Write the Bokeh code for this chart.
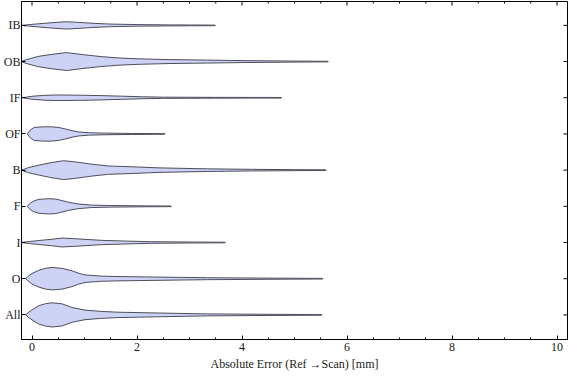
import math
from bokeh.plotting import figure
from bokeh.models import FixedTicker, SingleIntervalTicker, ColumnDataSource
from bokeh.embed import file_html
from bokeh.resources import INLINE

# categories bottom -> top
categories = ["All", "O", "I", "F", "B", "OF", "IF", "OB", "IB"]

# violin profiles: x positions [mm] and half-widths (category units)
all_x = [-0.12, -0.06, 0.0, 0.13, 0.26, 0.38, 0.57, 0.76, 1.01, 1.32, 1.64, 2.59, 3.34, 4.5, 5.52]
all_w = [0, .077, .137, .255, .31, .334, .307, .205, .132, .096, .074, .047, .027, .016, .008]

o_x = [-0.12, -0.06, 0.0, 0.13, 0.26, 0.38, 0.57, 0.76, 0.89, 1.01, 1.32, 1.64, 2.59, 3.34, 4.5, 5.54]
o_w = [0, .082, .145, .233, .288, .31, .288, .219, .151, .104, .071, .06, .041, .027, .016, .008]

i_x = [-0.2, -0.05, 0.13, 0.38, 0.57, 0.83, 1.32, 1.83, 2.27, 3.0, 3.68]
i_w = [0, .027, .055, .09, .123, .104, .06, .038, .022, .014, .008]

f_x = [-0.09, -0.03, 0.04, 0.13, 0.32, 0.45, 0.57, 0.7, 0.89, 1.14, 1.5, 2.0, 2.65]
f_w = [0, .096, .151, .192, .211, .2, .159, .11, .063, .033, .022, .014, .008]

b_x = [-0.2, -0.06, 0.13, 0.38, 0.6, 0.83, 1.14, 1.46, 1.96, 2.4, 3.34, 4.2, 5.0, 5.6]
b_w = [0, .074, .137, .211, .26, .227, .164, .115, .09, .063, .036, .022, .014, .008]

of_x = [-0.09, -0.03, 0.04, 0.2, 0.38, 0.51, 0.64, 0.76, 0.89, 1.08, 1.4, 1.9, 2.53]
of_w = [0, .11, .178, .197, .197, .178, .137, .09, .055, .033, .022, .014, .008]

if_x = [-0.18, 0.0, 0.25, 0.5, 0.9, 1.3, 1.7, 2.1, 2.5, 3.5, 4.75]
if_w = [0, .041, .068, .077, .071, .06, .044, .027, .016, .011, .008]

ob_x = [-0.21, -0.12, 0.0, 0.13, 0.38, 0.66, 1.01, 1.32, 1.64, 2.0, 2.59, 3.34, 4.0, 4.8, 5.64]
ob_w = [0, .047, .096, .145, .2, .247, .184, .137, .101, .077, .055, .041, .027, .016, .008]

ib_x = [-0.2, -0.05, 0.15, 0.4, 0.66, 0.9, 1.2, 1.5, 2.0, 2.6, 3.0, 3.49]
ib_w = [0, .022, .047, .077, .101, .082, .055, .036, .022, .014, .011, .008]

profiles = [(all_x, all_w), (o_x, o_w), (i_x, i_w), (f_x, f_w), (b_x, b_w),
            (of_x, of_w), (if_x, if_w), (ob_x, ob_w), (ib_x, ib_w)]

x_ticks = [0, 2, 4, 6, 8, 10]
x_minor = [t + d for t in x_ticks[:-1] for d in (0.5, 1.0, 1.5)]
x_label = "Absolute Error (Ref \u2192Scan) [mm]"

X0, X1 = -0.2, 10.2
Y0, Y1 = 0.32, 9.66
FONT = "Liberation Serif"

p = figure(width=568, height=373, x_range=(X0, X1), y_range=(Y0, Y1),
           output_backend="svg", toolbar_location=None,
           min_border_left=0, min_border_right=1, min_border_top=1, min_border_bottom=0)

xs, ys = [], []
for k, (px, pw) in enumerate(profiles):
    c = k + 1
    xs.append(list(px) + list(px)[::-1])
    ys.append([c + w for w in pw] + [c - w for w in pw][::-1])

p.patches(xs="xs", ys="ys", source=ColumnDataSource(dict(xs=xs, ys=ys)),
          fill_color="#ccd3f5", fill_alpha=1.0, line_color="#4e4e5a", line_width=1,
          line_join="round")

p.xgrid.visible = False
p.ygrid.visible = False
p.outline_line_color = "black"
p.outline_line_width = 1
p.background_fill_color = "white"
p.border_fill_color = "white"

xt = SingleIntervalTicker(interval=2, num_minor_ticks=4)
yt = FixedTicker(ticks=list(range(1, len(categories) + 1)), minor_ticks=[])

def style_axis(ax):
    ax.axis_line_color = "black"
    ax.axis_line_width = 1
    ax.major_tick_in = 4
    ax.major_tick_out = 0
    ax.minor_tick_in = 2
    ax.minor_tick_out = 0
    ax.major_tick_line_color = "black"
    ax.minor_tick_line_color = "black"
    ax.major_label_text_font = FONT
    ax.major_label_text_font_size = "12px"
    ax.major_label_text_color = "#1a1a1a"

xa = p.xaxis[0]
xa.ticker = xt
style_axis(xa)
xa.major_label_standoff = 3
xa.axis_label = x_label
xa.axis_label_text_font = FONT
xa.axis_label_text_font_size = "12px"
xa.axis_label_text_font_style = "normal"
xa.axis_label_text_color = "#1a1a1a"
xa.axis_label_standoff = 3

ya = p.yaxis[0]
ya.ticker = yt
style_axis(ya)
ya.major_label_overrides = {i + 1: c for i, c in enumerate(categories)}
ya.major_label_standoff = 1

# mirrored frame ticks on top and right edges (pointing inward)
ny = len(categories)
p.ray(x=x_ticks, y=[Y1] * len(x_ticks), length=4, length_units="screen",
      angle=-math.pi / 2, line_color="black", line_width=1)
p.ray(x=x_minor, y=[Y1] * len(x_minor), length=2, length_units="screen",
      angle=-math.pi / 2, line_color="black", line_width=1)
p.ray(x=[X1] * ny, y=list(range(1, ny + 1)), length=4, length_units="screen",
      angle=math.pi, line_color="black", line_width=1)

open("out.html", "w").write(file_html(p, INLINE))
